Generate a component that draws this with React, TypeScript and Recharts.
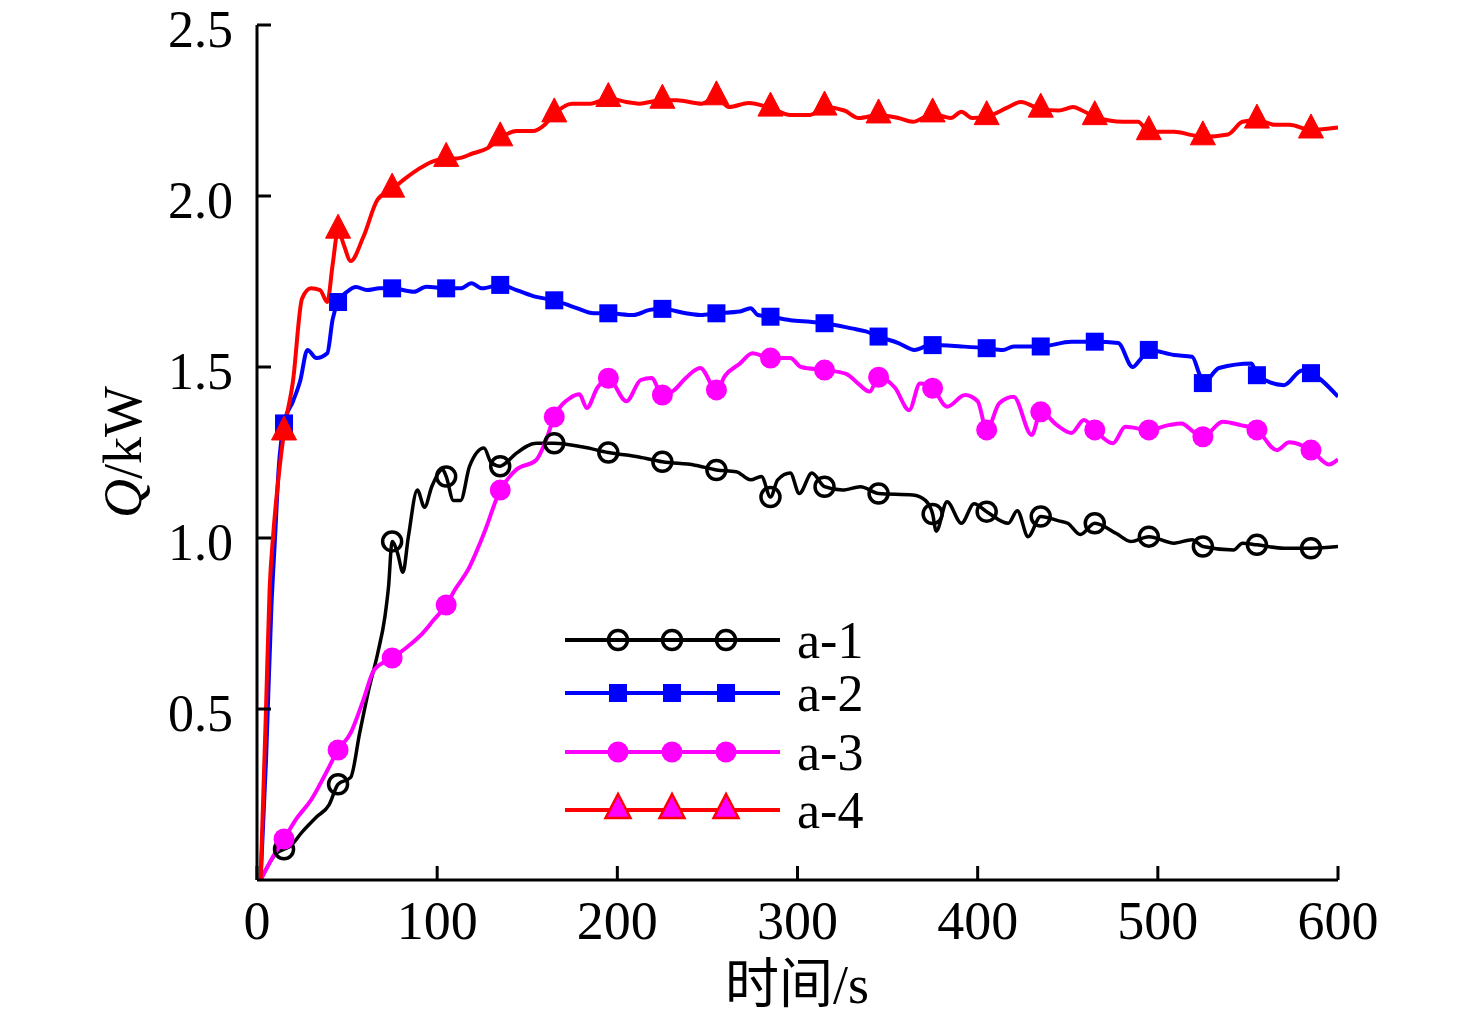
import React from 'react';
import { LineChart, Line, XAxis, YAxis, Legend } from 'recharts';

const xTicks = [0, 100, 200, 300, 400, 500, 600];
const yTicks = [0.5, 1.0, 1.5, 2.0, 2.5];
const markerTimes = [15, 45, 75, 105, 135, 165, 195, 225, 255, 285, 315, 345, 375, 405, 435, 465, 495, 525, 555, 585];

const a1 = [
  [2, 0], [11, 0.079], [15, 0.09], [18, 0.097], [25, 0.14], [33, 0.184], [40, 0.22], [45, 0.28], [52, 0.3],
  [57, 0.43], [62, 0.556], [67, 0.663], [71, 0.77], [73, 0.857], [75, 0.99], [78, 0.956], [81, 0.9], [84, 1.003],
  [89, 1.14], [93, 1.09], [97, 1.15], [103, 1.2], [105, 1.18], [109, 1.11], [113, 1.11], [118, 1.21], [126, 1.263],
  [130, 1.22], [135, 1.21], [137, 1.215], [144, 1.248], [155, 1.277], [165, 1.277], [181, 1.266], [195, 1.25],
  [212, 1.237], [225, 1.223], [243, 1.213], [255, 1.199], [266, 1.194], [274, 1.17], [280, 1.18], [285, 1.12],
  [289, 1.17], [296, 1.19], [301, 1.13], [308, 1.19], [315, 1.15], [325, 1.14], [335, 1.15], [345, 1.13],
  [364, 1.126], [371, 1.11], [375, 1.07], [377, 1.02], [383, 1.106], [391, 1.043], [398, 1.1], [405, 1.077],
  [417, 1.043], [422, 1.08], [428, 1.004], [435, 1.063], [445, 1.05], [450, 1.043], [457, 1.01], [465, 1.043],
  [477, 1.013], [485, 0.99], [495, 1.004], [509, 0.985], [519, 0.995], [525, 0.975], [542, 0.965], [547, 0.985],
  [555, 0.98], [570, 0.97], [585, 0.97], [600, 0.975],
];

const a2 = [
  [2, 0], [5, 0.35], [8, 0.8], [10, 1.0], [12, 1.2], [15, 1.335], [20, 1.4], [24, 1.46], [28, 1.55], [33, 1.526],
  [39, 1.54], [42, 1.64], [45, 1.69], [50, 1.72], [55, 1.734], [61, 1.725], [68, 1.73], [75, 1.73], [87, 1.72],
  [94, 1.735], [105, 1.73], [113, 1.73], [119, 1.745], [125, 1.73], [135, 1.74], [144, 1.725], [155, 1.705],
  [165, 1.695], [177, 1.673], [187, 1.657], [195, 1.657], [209, 1.652], [218, 1.667], [225, 1.67], [238, 1.657],
  [246, 1.652], [255, 1.657], [268, 1.662], [274, 1.672], [278, 1.652], [285, 1.647], [296, 1.637], [307, 1.632],
  [315, 1.628], [330, 1.613], [338, 1.604], [345, 1.589], [356, 1.57], [365, 1.55], [371, 1.56], [375, 1.564],
  [391, 1.56], [405, 1.555], [414, 1.55], [420, 1.56], [435, 1.56], [452, 1.574], [465, 1.574], [478, 1.57],
  [486, 1.5], [490, 1.52], [495, 1.55], [509, 1.535], [519, 1.53], [523, 1.48], [525, 1.453], [534, 1.497],
  [552, 1.51], [555, 1.476], [570, 1.447], [580, 1.49], [585, 1.482], [600, 1.413],
];

const a3 = [
  [2, 0], [8, 0.06], [15, 0.12], [22, 0.18], [30, 0.234], [38, 0.31], [45, 0.38], [52, 0.43], [59, 0.526],
  [65, 0.614], [75, 0.649], [83, 0.68], [92, 0.722], [98, 0.76], [105, 0.804], [110, 0.85], [117, 0.906],
  [126, 1.014], [135, 1.14], [144, 1.2], [155, 1.228], [160, 1.28], [165, 1.354], [174, 1.41], [179, 1.42],
  [183, 1.38], [189, 1.44], [195, 1.467], [205, 1.4], [213, 1.462], [219, 1.468], [225, 1.418], [231, 1.43],
  [238, 1.468], [246, 1.497], [255, 1.433], [260, 1.476], [268, 1.51], [275, 1.54], [285, 1.526], [296, 1.526],
  [302, 1.5], [315, 1.491], [327, 1.48], [334, 1.45], [340, 1.428], [345, 1.47], [354, 1.44], [362, 1.374],
  [368, 1.452], [375, 1.438], [383, 1.384], [393, 1.418], [400, 1.4], [405, 1.316], [412, 1.394], [420, 1.413],
  [430, 1.301], [435, 1.369], [444, 1.33], [452, 1.307], [459, 1.345], [465, 1.316], [475, 1.277], [482, 1.325],
  [495, 1.316], [506, 1.33], [513, 1.335], [520, 1.31], [525, 1.296], [536, 1.34], [546, 1.33], [555, 1.316],
  [566, 1.257], [573, 1.28], [585, 1.257], [595, 1.215], [600, 1.23],
];

const a4 = [
  [2, 0], [5, 0.5], [7, 0.85], [9, 1.01], [12, 1.18], [15, 1.31], [20, 1.46], [25, 1.7], [30, 1.73], [35, 1.725],
  [39, 1.69], [42, 1.8], [45, 1.9], [48, 1.86], [52, 1.81], [59, 1.88], [67, 1.99], [75, 2.02], [82, 2.05],
  [90, 2.08], [97, 2.1], [105, 2.11], [111, 2.11], [120, 2.125], [128, 2.14], [135, 2.17], [144, 2.19],
  [153, 2.19], [160, 2.21], [165, 2.24], [175, 2.27], [185, 2.27], [195, 2.285], [205, 2.275], [212, 2.27],
  [218, 2.275], [225, 2.28], [233, 2.28], [247, 2.27], [255, 2.29], [262, 2.26], [273, 2.272], [285, 2.257],
  [296, 2.237], [307, 2.237], [315, 2.26], [326, 2.25], [334, 2.228], [345, 2.237], [356, 2.228], [364, 2.217],
  [375, 2.24], [385, 2.228], [391, 2.246], [397, 2.228], [405, 2.232], [417, 2.26], [424, 2.275], [435, 2.254],
  [445, 2.25], [453, 2.26], [458, 2.25], [465, 2.232], [481, 2.217], [489, 2.217], [495, 2.188], [509, 2.188],
  [519, 2.178], [525, 2.173], [539, 2.18], [547, 2.217], [555, 2.222], [565, 2.208], [573, 2.208], [585, 2.193],
  [600, 2.2],
];

const seriesNames = ['a-1', 'a-2', 'a-3', 'a-4'];
const seriesColors = ['#000000', '#0000FF', '#FF00FF', '#FF0000'];

const toRows = (pairs: number[][]) => pairs.map(([t, v]) => ({ t, v }));

const FONT = '"Liberation Serif", "Times New Roman", "Noto Sans CJK SC", serif';

type Shape = 'openCircle' | 'square' | 'circle' | 'triangle';
const shapes: Shape[] = ['openCircle', 'square', 'circle', 'triangle'];

function Marker({ shape, cx, cy, legend }: { shape: Shape; cx: number; cy: number; legend?: boolean }) {
  if (shape === 'openCircle') {
    return <circle cx={cx} cy={cy} r={9.5} fill="none" stroke="#000000" strokeWidth={3.5} />;
  }
  if (shape === 'square') {
    return <rect x={cx - 9} y={cy - 9} width={18} height={18} fill="#0000FF" />;
  }
  if (shape === 'circle') {
    return <circle cx={cx} cy={cy} r={10.5} fill="#FF00FF" />;
  }
  return (
    <polygon
      points={`${cx},${cy - 16} ${cx - 12.5},${cy + 8} ${cx + 12.5},${cy + 8}`}
      fill={legend ? '#FF00FF' : '#FF0000'}
      stroke="#FF0000"
      strokeWidth={legend ? 2.5 : 1}
      strokeLinejoin="miter"
    />
  );
}

const makeDot = (shape: Shape) => (props: any) => {
  const { cx, cy, payload, index } = props;
  if (cx == null || cy == null || !markerTimes.includes(payload.t)) {
    return <g key={`d-${shape}-${index}`} />;
  }
  return (
    <g key={`d-${shape}-${index}`}>
      <Marker shape={shape} cx={cx} cy={cy} />
    </g>
  );
};

const YTick = (p: any) => {
  const ax = p.x + 24;
  return (
    <g>
      <line x1={ax} y1={p.y} x2={ax + 14} y2={p.y} stroke="#000" strokeWidth={3} />
      <text x={p.x} y={p.y + 22} textAnchor="end" fontFamily={FONT} fontSize={52} fill="#000">
        {Number(p.payload.value).toFixed(1)}
      </text>
    </g>
  );
};

const XTick = (p: any) => {
  const ay = p.y - 20;
  return (
    <g>
      <line x1={p.x} y1={ay} x2={p.x} y2={ay - 14} stroke="#000" strokeWidth={3} />
      <text x={p.x} y={ay + 59} textAnchor="middle" fontFamily={FONT} fontSize={54} fill="#000">
        {p.payload.value}
      </text>
    </g>
  );
};

const YLabel = () => (
  <text transform="translate(141,452) rotate(-90)" textAnchor="middle" fontFamily={FONT} fontSize={54} fill="#000">
    <tspan fontStyle="italic">Q</tspan>
    <tspan>/kW</tspan>
  </text>
);

const XLabel = () => (
  <text x={797} y={1003} textAnchor="middle" fontFamily={FONT} fontSize={54} fill="#000">
    时间/s
  </text>
);

const legendRowY = [30, 83, 142, 200];
const legendMarkerX = [58, 112, 166];

const renderLegend = () => (
  <svg width={340} height={235} style={{ display: 'block' }}>
    {seriesNames.map((name, i) => {
      const y = legendRowY[i];
      return (
        <g key={name}>
          <line x1={5} x2={220} y1={y} y2={y} stroke={seriesColors[i]} strokeWidth={4} />
          {legendMarkerX.map((x) => (
            <Marker key={x} shape={shapes[i]} cx={x} cy={y} legend />
          ))}
          <text x={237} y={y + 18} fontFamily={FONT} fontSize={52} fill="#000">
            {name}
          </text>
        </g>
      );
    })}
  </svg>
);

const allSeries = [a1, a2, a3, a4];

export default function App() {
  return (
    <div>
      <style>{`body{margin:0;background:#fff}`}</style>
      <LineChart
        width={1476}
        height={1024}
        margin={{ top: 25, right: 138, bottom: 44, left: 157 }}
      >
        <XAxis
          dataKey="t"
          type="number"
          domain={[0, 600]}
          ticks={xTicks}
          interval={0}
          tickSize={0}
          tickMargin={20}
          tickLine={false}
          tick={<XTick />}
          height={100}
          axisLine={{ stroke: '#000', strokeWidth: 3 }}
          allowDataOverflow
          label={{ content: () => <XLabel /> }}
        />
        <YAxis
          type="number"
          domain={[0, 2.5]}
          ticks={yTicks}
          interval={0}
          tickSize={0}
          tickMargin={24}
          tickLine={false}
          tick={<YTick />}
          width={100}
          axisLine={{ stroke: '#000', strokeWidth: 3 }}
          allowDataOverflow
          label={{ content: () => <YLabel /> }}
        />
        <Legend
          layout="horizontal"
          verticalAlign="middle"
          align="center"
          content={renderLegend}
          wrapperStyle={{ position: 'absolute', left: 560, top: 610, width: 340, height: 235 }}
        />
        {allSeries.map((s, i) => (
          <Line
            key={seriesNames[i]}
            name={seriesNames[i]}
            data={toRows(s)}
            dataKey="v"
            type="monotone"
            stroke={seriesColors[i]}
            strokeWidth={i === 0 ? 3.5 : 4}
            dot={makeDot(shapes[i])}
            activeDot={false}
            isAnimationActive={false}
          />
        ))}
      </LineChart>
    </div>
  );
}
